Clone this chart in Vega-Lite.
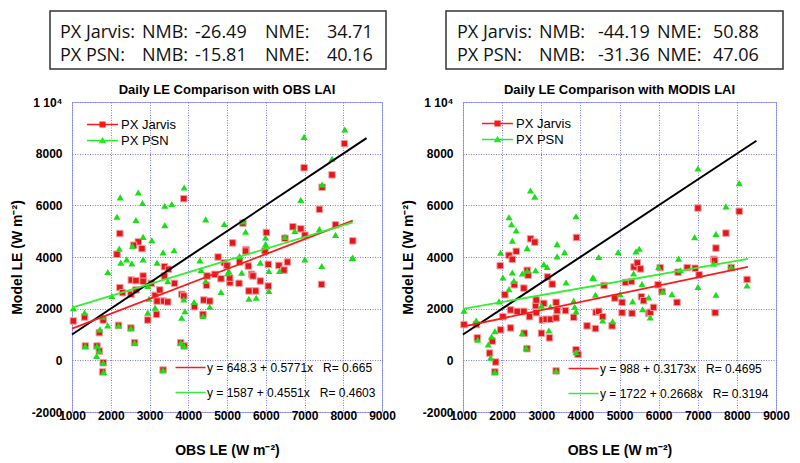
{
  "$schema": "https://vega.github.io/schema/vega-lite/v6.json",
  "background": "white",
  "padding": {"left": 4, "top": 10, "right": 0, "bottom": 0},
  "config": {
    "axis": {"grid": true, "gridColor": "#7a7aee", "gridDash": [1, 1.5], "gridWidth": 1, "gridOpacity": 1, "domain": false, "ticks": false, "labelFont": "Liberation Sans", "labelFontWeight": "bold", "labelFontSize": 12, "labelColor": "#000", "titleFont": "Liberation Sans", "titleFontWeight": "bold", "titleFontSize": 14, "titleColor": "#000", "labelFlush": false},
    "axisX": {"labelPadding": -2, "titlePadding": 22},
    "axisY": {"labelPadding": 10, "titlePadding": 7},
    "title": {"font": "Liberation Sans", "fontSize": 13, "fontWeight": "bold", "color": "#000", "offset": -1, "anchor": "middle", "frame": "group"},
    "legend": {"labelFont": "Liberation Sans", "labelColor": "#000", "padding": 0}
  },
  "datasets": {
    "statsOBS": [
      {"row": "PX Jarvis", "col": 1, "text": "PX Jarvis:"}, {"row": "PX Jarvis", "col": 2, "text": "NMB:"}, {"row": "PX Jarvis", "col": 3, "text": "-26.49"}, {"row": "PX Jarvis", "col": 4, "text": "NME:"}, {"row": "PX Jarvis", "col": 5, "text": "34.71"},
      {"row": "PX PSN", "col": 1, "text": "PX PSN:"}, {"row": "PX PSN", "col": 2, "text": "NMB:"}, {"row": "PX PSN", "col": 3, "text": "-15.81"}, {"row": "PX PSN", "col": 4, "text": "NME:"}, {"row": "PX PSN", "col": 5, "text": "40.16"}
    ],
    "statsMODIS": [
      {"row": "PX Jarvis", "col": 1, "text": "PX Jarvis:"}, {"row": "PX Jarvis", "col": 2, "text": "NMB:"}, {"row": "PX Jarvis", "col": 3, "text": "-44.19"}, {"row": "PX Jarvis", "col": 4, "text": "NME:"}, {"row": "PX Jarvis", "col": 5, "text": "50.88"},
      {"row": "PX PSN", "col": 1, "text": "PX PSN:"}, {"row": "PX PSN", "col": 2, "text": "NMB:"}, {"row": "PX PSN", "col": 3, "text": "-31.36"}, {"row": "PX PSN", "col": 4, "text": "NME:"}, {"row": "PX PSN", "col": 5, "text": "47.06"}
    ],
    "series": [{"series": "PX Jarvis"}, {"series": "PX PSN"}],
    "oneOBS": [{"obs": 1000, "le": 1000}, {"obs": 8600, "le": 8600}],
    "oneMODIS": [{"obs": 1000, "le": 1000}, {"obs": 8500, "le": 8500}],
    "fitOBS": [
      {"fit": "y = 648.3 + 0.5771x\u00a0\u00a0\u00a0R= 0.665", "obs": 1000, "le": 1225},
      {"fit": "y = 648.3 + 0.5771x\u00a0\u00a0\u00a0R= 0.665", "obs": 8245, "le": 5407},
      {"fit": "y = 1587 + 0.4551x\u00a0\u00a0\u00a0R= 0.4603", "obs": 1000, "le": 2042},
      {"fit": "y = 1587 + 0.4551x\u00a0\u00a0\u00a0R= 0.4603", "obs": 8245, "le": 5339}
    ],
    "fitMODIS": [
      {"fit": "y = 988 + 0.3173x\u00a0\u00a0\u00a0R= 0.4695", "obs": 1000, "le": 1305},
      {"fit": "y = 988 + 0.3173x\u00a0\u00a0\u00a0R= 0.4695", "obs": 8280, "le": 3615},
      {"fit": "y = 1722 + 0.2668x\u00a0\u00a0\u00a0R= 0.3194", "obs": 1000, "le": 1989},
      {"fit": "y = 1722 + 0.2668x\u00a0\u00a0\u00a0R= 0.3194", "obs": 8280, "le": 3931}
    ],
    "obsJarvis": [
      {"obs":8030,"le":8390},{"obs":6990,"le":7455},{"obs":7710,"le":7180},{"obs":7455,"le":6700},{"obs":7385,"le":5845},{"obs":3885,"le":6260},{"obs":2235,"le":4910},{"obs":2710,"le":4585},{"obs":2590,"le":4455},{"obs":2805,"le":4325},{"obs":2160,"le":4105},{"obs":5410,"le":5310},{"obs":5145,"le":4545},{"obs":5490,"le":4285},{"obs":4770,"le":4000},{"obs":6015,"le":4950},{"obs":5980,"le":4235},{"obs":6495,"le":4725},{"obs":6700,"le":5170},{"obs":6905,"le":5090},{"obs":7010,"le":4845},{"obs":7800,"le":5245},{"obs":8245,"le":4625},
      {"obs":1035,"le":1525},{"obs":1325,"le":1675},{"obs":1805,"le":1560},{"obs":1705,"le":1070},{"obs":1345,"le":555},{"obs":1645,"le":555},{"obs":1705,"le":360},{"obs":1805,"le":-90},{"obs":1790,"le":-450},{"obs":2200,"le":1355},{"obs":2520,"le":1250},{"obs":2615,"le":685},{"obs":2955,"le":1560},{"obs":3180,"le":1780},{"obs":3350,"le":-375},{"obs":3805,"le":685},{"obs":3895,"le":555},{"obs":2235,"le":2815},{"obs":2530,"le":3110},{"obs":2650,"le":3085},{"obs":2835,"le":3265},{"obs":2835,"le":3060},{"obs":2305,"le":2620},{"obs":2520,"le":2555},{"obs":2650,"le":2725},{"obs":3045,"le":2980},{"obs":3145,"le":2515},{"obs":3265,"le":2725},{"obs":3195,"le":2295},{"obs":3385,"le":3625},{"obs":3385,"le":3265},{"obs":3490,"le":3525},{"obs":3645,"le":2980},{"obs":3370,"le":2295},{"obs":3470,"le":2260},{"obs":3835,"le":2555},{"obs":3885,"le":2490},{"obs":4160,"le":2075},{"obs":4380,"le":1780},{"obs":4400,"le":2335},{"obs":4555,"le":2295},{"obs":4485,"le":3265},{"obs":4470,"le":2905},{"obs":4690,"le":3330},{"obs":4845,"le":3160},{"obs":4930,"le":3780},{"obs":5000,"le":3675},{"obs":5325,"le":3805},{"obs":5480,"le":4230},{"obs":5550,"le":3650},{"obs":5635,"le":3330},{"obs":5670,"le":3265},{"obs":5740,"le":2685},{"obs":5565,"le":2685},{"obs":5310,"le":2980},{"obs":5075,"le":3005},{"obs":5070,"le":3185},{"obs":5860,"le":3070},{"obs":6065,"le":3715},{"obs":6340,"le":3675},{"obs":6560,"le":3805},{"obs":6065,"le":2875},{"obs":7440,"le":2940},{"obs":6470,"le":3495}
    ],
    "obsPSN": [
      {"obs":8040,"le":8935},{"obs":6990,"le":8650},{"obs":7710,"le":7805},{"obs":7455,"le":6805},{"obs":6905,"le":6210},{"obs":3895,"le":6690},{"obs":2245,"le":6310},{"obs":2710,"le":6495},{"obs":2820,"le":6090},{"obs":3395,"le":5985},{"obs":3575,"le":6050},{"obs":2160,"le":5560},{"obs":2650,"le":5430},{"obs":4450,"le":5455},{"obs":4930,"le":5275},{"obs":3395,"le":5235},{"obs":5480,"le":4975},{"obs":5410,"le":5375},{"obs":3060,"le":4650},{"obs":2835,"le":4780},{"obs":2560,"le":4430},{"obs":2220,"le":4325},{"obs":3350,"le":4180},{"obs":3635,"le":4260},{"obs":5995,"le":4755},{"obs":6495,"le":4780},{"obs":7385,"le":5080},{"obs":7800,"le":4855},{"obs":8230,"le":3950},{"obs":5995,"le":4500},{"obs":6750,"le":5005},{"obs":7010,"le":3910},{"obs":7445,"le":3650},
      {"obs":1035,"le":2015},{"obs":1325,"le":1845},{"obs":1720,"le":1200},{"obs":1635,"le":170},{"obs":1815,"le":-450},{"obs":1925,"le":3420},{"obs":1790,"le":1690},{"obs":1920,"le":1355},{"obs":2030,"le":2490},{"obs":2260,"le":3780},{"obs":2410,"le":3910},{"obs":2545,"le":3755},{"obs":2835,"le":3910},{"obs":2955,"le":2875},{"obs":2990,"le":2385},{"obs":3145,"le":2040},{"obs":2955,"le":1845},{"obs":3195,"le":3780},{"obs":3470,"le":3060},{"obs":4150,"le":2260},{"obs":4330,"le":3495},{"obs":4450,"le":3070},{"obs":4555,"le":2075},{"obs":4380,"le":1715},{"obs":4845,"le":2645},{"obs":5015,"le":3370},{"obs":5325,"le":4040},{"obs":5380,"le":3395},{"obs":5565,"le":2385},{"obs":5755,"le":2425},{"obs":5860,"le":3780},{"obs":6080,"le":2685},{"obs":6080,"le":3460},{"obs":6355,"le":3460},{"obs":8245,"le":3975},{"obs":3885,"le":2360},{"obs":3895,"le":555},{"obs":3350,"le":-375},{"obs":2615,"le":685},{"obs":2520,"le":1250},{"obs":2200,"le":1355},{"obs":1345,"le":555},{"obs":1645,"le":555},{"obs":1705,"le":360},{"obs":1805,"le":-90},{"obs":3805,"le":685},{"obs":3915,"le":1900},{"obs":3830,"le":1650},{"obs":4300,"le":3870},{"obs":5050,"le":3455},{"obs":6020,"le":4425}
    ],
    "modisJarvis": [
      {"obs":7005,"le":5895},{"obs":8060,"le":5770},{"obs":7720,"le":4925},{"obs":7465,"le":4345},{"obs":7405,"le":3910},{"obs":3900,"le":4755},{"obs":2725,"le":4705},{"obs":2835,"le":4575},{"obs":2360,"le":4220},{"obs":2175,"le":4065},{"obs":2260,"le":3910},{"obs":1950,"le":3665},{"obs":2640,"le":3485},{"obs":2665,"le":3295},{"obs":2070,"le":2540},{"obs":2310,"le":2925},{"obs":2555,"le":2795},{"obs":2855,"le":2115},{"obs":2870,"le":2335},{"obs":3280,"le":2950},{"obs":3160,"le":3230},{"obs":2215,"le":1950},{"obs":2385,"le":1895},{"obs":2555,"le":1895},{"obs":2700,"le":1690},{"obs":2870,"le":1845},{"obs":3065,"le":2205},{"obs":3025,"le":1565},{"obs":3125,"le":1590},{"obs":3235,"le":1590},{"obs":3380,"le":1640},{"obs":3405,"le":1925},{"obs":3620,"le":1925},{"obs":3830,"le":1665},{"obs":3380,"le":2245},{"obs":2020,"le":1690},{"obs":2215,"le":1255},{"obs":1960,"le":1180},{"obs":2565,"le":1050},{"obs":3005,"le":1050},{"obs":3210,"le":870},{"obs":2635,"le":450},{"obs":1340,"le":1385},{"obs":1025,"le":1385},{"obs":1365,"le":870},{"obs":1750,"le":745},{"obs":1680,"le":280},{"obs":1835,"le":-65},{"obs":1815,"le":-450},{"obs":3380,"le":-410},{"obs":3890,"le":410},{"obs":3940,"le":230},{"obs":4170,"le":1335},{"obs":4385,"le":1230},{"obs":4400,"le":1860},{"obs":4470,"le":1895},{"obs":4570,"le":1690},{"obs":4810,"le":1335},{"obs":4605,"le":2895},{"obs":4880,"le":2410},{"obs":5065,"le":2245},{"obs":5065,"le":1845},{"obs":5320,"le":1820},{"obs":5560,"le":2460},{"obs":5615,"le":2310},{"obs":5150,"le":3015},{"obs":5305,"le":3050},{"obs":5370,"le":3615},{"obs":5455,"le":3770},{"obs":5535,"le":3540},{"obs":5745,"le":1820},{"obs":5785,"le":1860},{"obs":5870,"le":2050},{"obs":5985,"le":2925},{"obs":6085,"le":2665},{"obs":6470,"le":2245},{"obs":6495,"le":3410},{"obs":6730,"le":3590},{"obs":6935,"le":3565},{"obs":7035,"le":3310},{"obs":7445,"le":1845},{"obs":7430,"le":3870},{"obs":7855,"le":3590},{"obs":8260,"le":3130},{"obs":6040,"le":3590}
    ],
    "modisPSN": [
      {"obs":7005,"le":7425},{"obs":8060,"le":6860},{"obs":2725,"le":6575},{"obs":2835,"le":6335},{"obs":2175,"le":5540},{"obs":2240,"le":5270},{"obs":2360,"le":5025},{"obs":2260,"le":4630},{"obs":3890,"le":5575},{"obs":3405,"le":4500},{"obs":3595,"le":4190},{"obs":3405,"le":4025},{"obs":2640,"le":4345},{"obs":1960,"le":4165},{"obs":4470,"le":4000},{"obs":4965,"le":4190},{"obs":5420,"le":4220},{"obs":5505,"le":4320},{"obs":6920,"le":4770},{"obs":7465,"le":4895},{"obs":7720,"le":5960},{"obs":6510,"le":3935},{"obs":1025,"le":1925},{"obs":1340,"le":1540},{"obs":1375,"le":795},{"obs":1645,"le":615},{"obs":1730,"le":925},{"obs":1815,"le":1130},{"obs":1705,"le":105},{"obs":1815,"le":-450},{"obs":1920,"le":2280},{"obs":2020,"le":3205},{"obs":2175,"le":2755},{"obs":2300,"le":3075},{"obs":2515,"le":3360},{"obs":2855,"le":3485},{"obs":3065,"le":3720},{"obs":3150,"le":3615},{"obs":3635,"le":3015},{"obs":3005,"le":2115},{"obs":3235,"le":2075},{"obs":3195,"le":1155},{"obs":2515,"le":1050},{"obs":2615,"le":485},{"obs":3830,"le":2310},{"obs":3855,"le":2075},{"obs":3890,"le":1895},{"obs":3890,"le":320},{"obs":4340,"le":3180},{"obs":4385,"le":2540},{"obs":4570,"le":1540},{"obs":4825,"le":1515},{"obs":5015,"le":2565},{"obs":5335,"le":2280},{"obs":5360,"le":3360},{"obs":5575,"le":2950},{"obs":5590,"le":1975},{"obs":5745,"le":2435},{"obs":5785,"le":1665},{"obs":6000,"le":3615},{"obs":6100,"le":2665},{"obs":6340,"le":2565},{"obs":6555,"le":3485},{"obs":7005,"le":2845},{"obs":7465,"le":2540},{"obs":7405,"le":3745},{"obs":8260,"le":2895},{"obs":7855,"le":3620},{"obs":2260,"le":3400},{"obs":2640,"le":3465},{"obs":4315,"le":3200},{"obs":3380,"le":-410}
    ]
  },
  "vconcat": [
    {
      "hconcat": [
        {"width": 45, "height": 1, "data": {"values": []}, "mark": "point", "view": {"stroke": null}},
        {
          "width": 336, "height": 58,
          "data": {"name": "statsOBS"},
          "view": {"stroke": "#333333", "strokeWidth": 1.5},
          "mark": {"type": "text", "align": "left", "baseline": "middle", "font": "Open Sans", "fontSize": 18, "color": "#111111"},
          "encoding": {
            "x": {"field": "col", "type": "quantitative", "scale": {"domain": [1, 2, 3, 4, 5], "range": [10, 92, 145, 215, 277], "zero": false, "nice": false}, "axis": null},
            "y": {"field": "row", "type": "nominal", "scale": {"type": "point", "domain": ["PX Jarvis", "PX PSN"], "range": [22, 45], "padding": 0}, "axis": null},
            "text": {"field": "text"}
          }
        },
        {"width": 58, "height": 1, "data": {"values": []}, "mark": "point", "view": {"stroke": null}},
        {
          "width": 337, "height": 58,
          "data": {"name": "statsMODIS"},
          "view": {"stroke": "#333333", "strokeWidth": 1.5},
          "mark": {"type": "text", "align": "left", "baseline": "middle", "font": "Open Sans", "fontSize": 18, "color": "#111111"},
          "encoding": {
            "x": {"field": "col", "type": "quantitative", "scale": {"domain": [1, 2, 3, 4, 5], "range": [11, 93, 152, 211, 267], "zero": false, "nice": false}, "axis": null},
            "y": {"field": "row", "type": "nominal", "scale": {"type": "point", "domain": ["PX Jarvis", "PX PSN"], "range": [22, 45], "padding": 0}, "axis": null},
            "text": {"field": "text"}
          }
        }
      ],
      "spacing": 0
    },
    {
      "hconcat": [
        {"width": 1, "height": 1, "data": {"values": []}, "mark": "point", "view": {"stroke": null}},
        {
          "width": 310, "height": 310,
          "title": {"text": "Daily LE Comparison with OBS LAI"},
          "view": {"stroke": "#a8a8f0", "strokeWidth": 1},
          "encoding": {
            "x": {"field": "obs", "type": "quantitative", "scale": {"domain": [1000, 9000], "nice": false, "zero": false}, "axis": {"title": "OBS LE (W m⁻²)", "values": [1000, 2000, 3000, 4000, 5000, 6000, 7000, 8000, 9000], "format": "d"}},
            "y": {"field": "le", "type": "quantitative", "scale": {"domain": [-2000, 10000], "nice": false, "zero": false}, "axis": {"title": "Model LE (W m⁻²)", "values": [-2000, 0, 2000, 4000, 6000, 8000, 10000], "labelExpr": "datum.value == 10000 ? '1 10⁴' : '' + datum.value"}}
          },
          "layer": [
            {"data": {"name": "obsJarvis"}, "mark": {"type": "point", "shape": "square", "filled": true, "size": 42, "color": "#e3161b", "stroke": "#f3a3a3", "strokeWidth": 1, "opacity": 1}},
            {"data": {"name": "obsPSN"}, "mark": {"type": "point", "shape": "triangle-up", "filled": true, "size": 50, "color": "#18e018", "opacity": 1}},
            {"data": {"name": "oneOBS"}, "mark": {"type": "line", "color": "#000000", "strokeWidth": 2}},
            {"data": {"name": "fitOBS"}, "mark": {"type": "line", "strokeWidth": 1.8},
             "encoding": {"color": {"field": "fit", "type": "nominal", "scale": {"domain": ["y = 648.3 + 0.5771x\u00a0\u00a0\u00a0R= 0.665", "y = 1587 + 0.4551x\u00a0\u00a0\u00a0R= 0.4603"], "range": ["#ff1a1a", "#33ee33"]},
               "legend": {"orient": "none", "legendX": 110, "legendY": 257, "title": null, "labelFontSize": 12, "symbolType": "M-2,0H2", "symbolSize": 225, "symbolStrokeWidth": 1.5, "labelOffset": 8, "rowPadding": 10, "padding": 0, "labelLimit": 400}}}},
            {"data": {"name": "series"}, "transform": [{"filter": "false"}], "mark": {"type": "point", "filled": true, "size": 240, "strokeWidth": 0, "opacity": 1},
             "encoding": {
               "color": {"field": "series", "type": "nominal", "scale": {"domain": ["PX Jarvis", "PX PSN"], "range": ["#ff1a1a", "#22ee22"]}, "legend": {"orient": "none", "legendX": 22, "legendY": 14, "title": null, "labelFontSize": 13, "labelOffset": 10, "rowPadding": 0, "padding": 0, "symbolSize": 240}},
               "shape": {"field": "series", "type": "nominal", "scale": {"domain": ["PX Jarvis", "PX PSN"], "range": ["M-2,-0.1H2V0.1H-2Z M-0.4,-0.4H0.4V0.4H-0.4Z", "M-2,-0.1H2V0.1H-2Z M0,-0.5L0.48,0.36H-0.48Z"]}, "legend": {"orient": "none", "legendX": 22, "legendY": 14, "title": null, "labelFontSize": 13, "labelOffset": 10, "rowPadding": 0, "padding": 0, "symbolSize": 240}}
             }}
          ],
          "resolve": {"scale": {"color": "independent", "shape": "independent"}}
        },
        {
          "width": 313, "height": 310,
          "title": {"text": "Daily LE Comparison with MODIS LAI"},
          "view": {"stroke": "#a8a8f0", "strokeWidth": 1},
          "encoding": {
            "x": {"field": "obs", "type": "quantitative", "scale": {"domain": [1000, 9000], "nice": false, "zero": false}, "axis": {"title": "OBS LE (W m⁻²)", "values": [1000, 2000, 3000, 4000, 5000, 6000, 7000, 8000, 9000], "format": "d"}},
            "y": {"field": "le", "type": "quantitative", "scale": {"domain": [-2000, 10000], "nice": false, "zero": false}, "axis": {"title": "Model LE (W m⁻²)", "values": [-2000, 0, 2000, 4000, 6000, 8000, 10000], "labelExpr": "datum.value == 10000 ? '1 10⁴' : '' + datum.value"}}
          },
          "layer": [
            {"data": {"name": "modisJarvis"}, "mark": {"type": "point", "shape": "square", "filled": true, "size": 42, "color": "#e3161b", "stroke": "#f3a3a3", "strokeWidth": 1, "opacity": 1}},
            {"data": {"name": "modisPSN"}, "mark": {"type": "point", "shape": "triangle-up", "filled": true, "size": 50, "color": "#18e018", "opacity": 1}},
            {"data": {"name": "oneMODIS"}, "mark": {"type": "line", "color": "#000000", "strokeWidth": 2}},
            {"data": {"name": "fitMODIS"}, "mark": {"type": "line", "strokeWidth": 1.8},
             "encoding": {"color": {"field": "fit", "type": "nominal", "scale": {"domain": ["y = 988 + 0.3173x\u00a0\u00a0\u00a0R= 0.4695", "y = 1722 + 0.2668x\u00a0\u00a0\u00a0R= 0.3194"], "range": ["#ff1a1a", "#33ee33"]},
               "legend": {"orient": "none", "legendX": 112, "legendY": 258, "title": null, "labelFontSize": 12, "symbolType": "M-2,0H2", "symbolSize": 225, "symbolStrokeWidth": 1.5, "labelOffset": 8, "rowPadding": 10, "padding": 0, "labelLimit": 400}}}},
            {"data": {"name": "series"}, "transform": [{"filter": "false"}], "mark": {"type": "point", "filled": true, "size": 240, "strokeWidth": 0, "opacity": 1},
             "encoding": {
               "color": {"field": "series", "type": "nominal", "scale": {"domain": ["PX Jarvis", "PX PSN"], "range": ["#ff1a1a", "#22ee22"]}, "legend": {"orient": "none", "legendX": 26, "legendY": 13, "title": null, "labelFontSize": 13, "labelOffset": 10, "rowPadding": 0, "padding": 0, "symbolSize": 240}},
               "shape": {"field": "series", "type": "nominal", "scale": {"domain": ["PX Jarvis", "PX PSN"], "range": ["M-2,-0.1H2V0.1H-2Z M-0.4,-0.4H0.4V0.4H-0.4Z", "M-2,-0.1H2V0.1H-2Z M0,-0.5L0.48,0.36H-0.48Z"]}, "legend": {"orient": "none", "legendX": 26, "legendY": 13, "title": null, "labelFontSize": 13, "labelOffset": 10, "rowPadding": 0, "padding": 0, "symbolSize": 240}}
             }}
          ],
          "resolve": {"scale": {"color": "independent", "shape": "independent"}}
        }
      ],
      "spacing": 4
    }
  ],
  "spacing": 13
}
